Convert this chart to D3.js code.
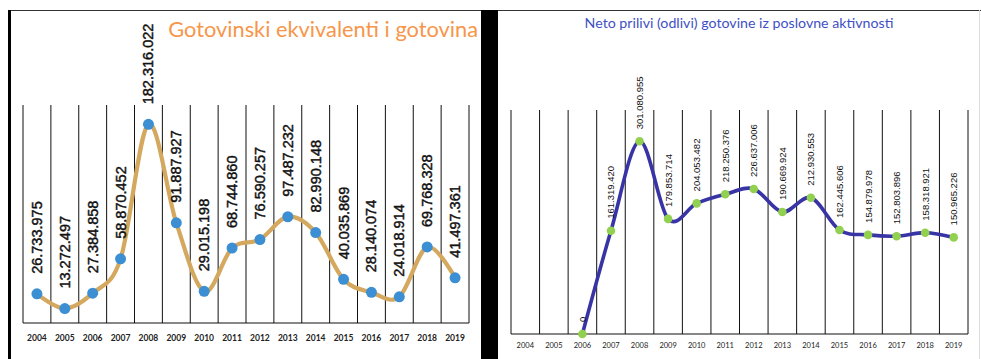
<!DOCTYPE html>
<html>
<head>
<meta charset="utf-8">
<script src="https://cdn.jsdelivr.net/npm/d3@7"></script>
<style>
  html, body { margin: 0; padding: 0; background: #fff; }
  svg { display: block; }
</style>
</head>
<body>
<svg id="chart" width="981" height="359"></svg>
<script>
// Years shown on both category axes
const years = ["2004","2005","2006","2007","2008","2009","2010","2011",
               "2012","2013","2014","2015","2016","2017","2018","2019"];

// Gotovinski ekvivalenti i gotovina
const cashValues = [26733975, 13272497, 27384858, 58870452, 182316022, 91887927,
                    29015198, 68744860, 76590257, 97487232, 82990148, 40035869,
                    28140074, 24018914, 69768328, 41497361];

// Neto prilivi (odlivi) gotovine iz poslovne aktivnosti (no data for 2004-2005)
const flowValues = [null, null, 0, 161319420, 301080955, 179853714, 204053482,
                    218250376, 226637006, 190669924, 212930553, 162445606,
                    154879978, 152803896, 158318921, 150965226];

const cashTitle = "Gotovinski ekvivalenti i gotovina";
const flowTitle = "Neto prilivi (odlivi) gotovine iz poslovne aktivnosti";

const locale = d3.formatLocale({ decimal: ",", thousands: ".", grouping: [3], currency: ["", ""] });
const fmt = locale.format(",d");

const svg = d3.select("#chart");

// Page frame: top rule, left bar, centre divider, faint right edge
svg.append("line").attr("x1", 8).attr("x2", 981).attr("y1", 10.5).attr("y2", 10.5)
  .attr("stroke", "#333").attr("stroke-width", 1.2);
svg.append("rect").attr("x", 8).attr("y", 10).attr("width", 3).attr("height", 349).attr("fill", "#000");
svg.append("rect").attr("x", 481).attr("y", 10).attr("width", 17).attr("height", 349).attr("fill", "#000");
svg.append("line").attr("x1", 979.5).attr("x2", 979.5).attr("y1", 10).attr("y2", 359)
  .attr("stroke", "#ddd").attr("stroke-width", 1);

function drawPanel(cfg) {
  const g = svg.append("g");
  const x = d3.scaleBand().domain(years).range([cfg.left, cfg.right]);
  const y = d3.scaleLinear().domain([0, cfg.max]).range([cfg.bottom, cfg.top]);

  // Vertical category gridlines at band edges
  const edges = years.map(d => x(d)).concat([x.range()[1]]);
  g.selectAll("line.grid").data(edges).join("line")
    .attr("class", "grid")
    .attr("x1", d => d).attr("x2", d => d)
    .attr("y1", cfg.top).attr("y2", cfg.bottom)
    .attr("stroke", "#111").attr("stroke-width", 1);
  g.append("line")
    .attr("x1", cfg.left).attr("x2", cfg.right)
    .attr("y1", cfg.bottom).attr("y2", cfg.bottom)
    .attr("stroke", "#111").attr("stroke-width", 1.2);

  // Year labels
  g.selectAll("text.year").data(years).join("text")
    .attr("class", "year")
    .attr("x", d => x(d) + x.bandwidth() / 2)
    .attr("y", cfg.yearY)
    .attr("text-anchor", "middle")
    .attr("dominant-baseline", "middle")
    .attr("font-family", "Lato, 'Open Sans', sans-serif")
    .attr("font-size", cfg.yearSize)
    .attr("font-weight", cfg.yearWeight)
    .attr("fill", "#222")
    .text(d => d);

  const pts = years.map((d, i) => ({ year: d, v: cfg.values[i] })).filter(p => p.v !== null);

  // Smoothed series line
  const line = d3.line()
    .x(p => x(p.year) + x.bandwidth() / 2)
    .y(p => y(p.v))
    .curve(d3.curveCardinal.tension(0));
  g.append("path").datum(pts)
    .attr("d", line)
    .attr("fill", "none")
    .attr("stroke", cfg.lineColor)
    .attr("stroke-width", cfg.lineWidth)
    .attr("stroke-linecap", "round");

  // Markers
  g.selectAll("circle.pt").data(pts).join("circle")
    .attr("class", "pt")
    .attr("cx", p => x(p.year) + x.bandwidth() / 2)
    .attr("cy", p => y(p.v))
    .attr("r", cfg.dotR)
    .attr("fill", cfg.dotColor);

  // Rotated value labels above each marker
  g.selectAll("text.val").data(pts).join("text")
    .attr("class", "val")
    .attr("transform", p => `translate(${x(p.year) + x.bandwidth() / 2},${y(p.v) - cfg.labelGap}) rotate(-90)`)
    .attr("text-anchor", "start")
    .attr("dominant-baseline", "central")
    .attr("font-family", "'Liberation Sans', Arial, sans-serif")
    .attr("font-size", cfg.labelSize)
    .attr("font-weight", cfg.labelWeight)
    .attr("fill", "#111")
    .attr("stroke", "#111")
    .attr("stroke-width", cfg.labelStroke)
    .text(p => fmt(p.v));

  // Title
  g.append("text")
    .attr("x", cfg.titleX).attr("y", cfg.titleY)
    .attr("text-anchor", cfg.titleAnchor)
    .attr("font-family", "Lato, 'Open Sans', sans-serif")
    .attr("font-size", cfg.titleSize)
    .attr("fill", cfg.titleColor)
    .text(cfg.title);
}

drawPanel({
  left: 23, right: 469, top: 105, bottom: 323, max: 200e6,
  values: cashValues,
  lineColor: "#d4a85e", lineWidth: 4.2, dotColor: "#3d8fd3", dotR: 5.5,
  labelGap: 20, labelSize: 14.5, labelWeight: "normal", labelStroke: 0.45,
  yearY: 339, yearSize: 8.5, yearWeight: "bold",
  title: cashTitle, titleX: 478, titleY: 37, titleAnchor: "end",
  titleSize: 21.8, titleColor: "#f7964a"
});

drawPanel({
  left: 511, right: 968, top: 110, bottom: 334, max: 350e6,
  values: flowValues,
  lineColor: "#3834a6", lineWidth: 3.6, dotColor: "#92d050", dotR: 4.3,
  labelGap: 12, labelSize: 9.5, labelWeight: "normal", labelStroke: 0,
  yearY: 346, yearSize: 7.5, yearWeight: "normal",
  title: flowTitle, titleX: 739, titleY: 28, titleAnchor: "middle",
  titleSize: 14.2, titleColor: "#4150c4"
});
</script>
</body>
</html>
